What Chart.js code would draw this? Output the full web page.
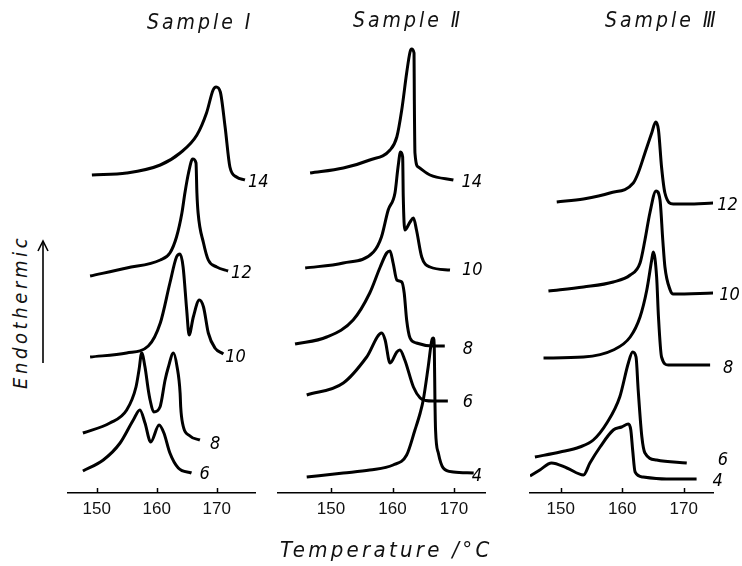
<!DOCTYPE html>
<html>
<head>
<meta charset="utf-8">
<script src="https://cdn.jsdelivr.net/npm/chart.js@4.4.0/dist/chart.umd.min.js"></script>
<style>
  body { margin: 0; background: #fff; }
  #wrap { position: relative; width: 742px; height: 566px; overflow: hidden; }
  canvas { position: absolute; top: 0; }
  .txt { position: absolute; font-family: "DejaVu Sans Condensed", "DejaVu Sans"; font-style: italic; color: #111; white-space: nowrap; }
</style>
</head>
<body>
<div id="wrap">
  <canvas id="c1" width="210" height="566" style="left:60px"></canvas>
  <canvas id="c2" width="225" height="566" style="left:270px"></canvas>
  <canvas id="c3" width="220" height="566" style="left:522px"></canvas>

  <div class="txt" style="left:147px;top:10px;font-size:21px;letter-spacing:3px">Sample Ⅰ</div>
  <div class="txt" style="left:353px;top:8px;font-size:21px;letter-spacing:3px">Sample Ⅱ</div>
  <div class="txt" style="left:605px;top:8px;font-size:21px;letter-spacing:3px">Sample Ⅲ</div>
  <div class="txt" style="left:280px;top:537px;font-size:22px;letter-spacing:3.3px">Temperature /°C</div>
  <div class="txt" style="left:-55px;top:302px;font-size:20px;letter-spacing:3.6px;width:150px;text-align:center;transform:rotate(-90deg)">Endothermic</div>
  <svg style="position:absolute;left:36px;top:238px" width="14" height="130">
    <line x1="7" y1="4" x2="7" y2="125" stroke="#000" stroke-width="1.6"/>
    <path d="M2,13 L7,3 L12,13" fill="none" stroke="#000" stroke-width="1.6"/>
  </svg>
</div>
<script>
// heat values are height above the axis (arb. units), temperatures in °C
// Sample I
const s1c14T = [149.2, 155, 160.6, 163.9, 166.7, 168.3, 169.4, 169.9, 170.6, 171.4, 172.2, 173.3, 174.7];
const s1c14H = [318, 320, 328, 340, 358, 380, 403, 406, 401, 366, 326, 316, 313];
const s1c12T = [148.9, 155, 160.6, 162.2, 163.3, 164.2, 164.7, 165.3, 166, 166.55, 166.7, 166.9, 167.8, 168.6, 170, 171.9];
const s1c12H = [217, 225, 233, 240, 256, 280, 300, 320, 334, 330, 300, 280, 250, 233, 226, 222];
const s1c10T = [148.9, 155, 158.6, 160.6, 162.2, 163.3, 163.9, 164.4, 165, 165.4, 166.1, 167.1, 167.8, 168.6, 169.7, 171.1];
const s1c10H = [136, 140, 147, 170, 210, 236, 239, 226, 183, 158, 176, 193, 186, 160, 145, 139];
const s1c8T = [147.7, 152.2, 155, 156.55, 157.05, 157.5, 158.05, 158.6, 158.9, 159.5, 160.55, 161.4, 161.9, 162.8, 163.4, 163.9, 164.0, 164.3, 165.55, 167.2];
const s1c8H = [60, 70, 83, 106, 123, 140, 126, 103, 93, 81, 86, 113, 125, 140, 126, 100, 86, 70, 57, 53];
const s1c6T = [147.7, 151.1, 153.9, 156.1, 157.2, 158.05, 159, 160.4, 161.2, 162.2, 163.6, 165.8];
const s1c6H = [22, 33, 50, 73, 83, 70, 51, 68, 60, 40, 25, 20];

// Sample II
const s2c14T = [146.6, 152, 156.3, 159.6, 160.7, 161.5, 162.3, 162.85, 163.1, 163.5, 163.55, 163.65, 164.2, 166.1, 169.9];
const s2c14H = [320, 325, 333, 343, 356, 383, 420, 441, 444, 440, 393, 340, 326, 318, 313];
const s2c10T = [145.8, 152, 156.9, 158.2, 159.3, 160.4, 160.9, 161.3, 161.65, 161.75, 162, 162.85, 163.4, 163.9, 164.75, 166.1, 169.35];
const s2c10H = [225, 230, 241, 256, 283, 300, 326, 341, 336, 296, 263, 271, 275, 263, 236, 226, 223];
const s2c8T = [144.15, 149.3, 153.6, 156.3, 158, 159.05, 159.6, 160.1, 160.7, 161.5, 161.9, 162.3, 162.85, 163.9, 166.6, 168.5];
const s2c8H = [149, 156, 173, 200, 226, 240, 242, 230, 213, 211, 200, 173, 155, 150, 147, 147];
const s2c6T = [146.05, 152, 155.8, 158.25, 158.8, 159.6, 160.7, 161.2, 162, 163.4, 164.5, 165.4, 166.6, 169];
const s2c6H = [98, 110, 136, 160, 153, 130, 141, 143, 133, 106, 95, 92.5, 92, 92];
const s2c4T = [146.05, 152, 156.3, 160.1, 162.3, 163.65, 164.5, 165, 165.8, 166.4, 166.65, 166.8, 166.9, 167, 167.45, 168.25, 169.9, 173.2];
const s2c4H = [16, 20, 23, 28, 38, 63, 80, 93, 126, 153, 155, 143, 93, 63, 40, 25, 21, 20];

// Sample III
const s3c12T = [149.35, 153.7, 158, 161.8, 162.6, 163.7, 164.8, 165.45, 165.9, 166.4, 166.95, 168.3, 170.5, 174.8];
const s3c12H = [291, 294, 300, 310, 320, 340, 360, 371, 363, 326, 300, 289, 289, 290];
const s3c10T = [148, 153.7, 158.55, 161.3, 162.9, 163.7, 164.5, 165.5, 166.15, 166.6, 166.95, 167.8, 168.3, 174.8];
const s3c10H = [202, 206, 211, 218, 230, 253, 280, 302, 293, 253, 226, 203, 199, 200];
const s3c8T = [147.2, 153.7, 158.55, 161.3, 162.9, 164, 164.8, 165.05, 165.6, 165.9, 166.4, 167.5, 174.3];
const s3c8H = [135, 136, 143, 156, 176, 203, 233, 241, 216, 176, 136, 128, 128];
const s3c6T = [145.8, 149.9, 153.1, 155.3, 157.5, 159.6, 161, 161.7, 162.25, 162.6, 163.2, 163.7, 165.6, 170.5];
const s3c6H = [36, 41, 46, 53, 70, 96, 130, 141, 136, 103, 56, 40, 33, 30];
const s3c4T = [145, 146.6, 148.5, 151, 153.7, 154.75, 156.4, 158.55, 159.9, 161, 161.4, 161.7, 162.1, 163.4, 167.2, 172.1];
const s3c4H = [17, 23, 30, 25, 18, 30, 46, 63, 66, 69, 63, 43, 21, 16, 14, 14];

const ticks = [150, 160, 170];

function pts(T, H) {
  return T.map((t, i) => ({ x: t, y: H[i] }));
}

function curve(label, T, H, dx, dy) {
  return {
    label: label,
    data: pts(T, H),
    borderColor: '#000',
    borderWidth: 3,
    pointRadius: 0,
    cubicInterpolationMode: 'monotone',
    fill: false,
    labelDx: dx,
    labelDy: dy
  };
}

// upward tick marks + curve numbers at the end of each trace
const extras = {
  id: 'extras',
  afterDraw(chart) {
    const xs = chart.scales.x, ys = chart.scales.y, ctx = chart.ctx;
    ctx.save();
    ctx.strokeStyle = '#000';
    ctx.lineWidth = 1.5;
    ticks.forEach(v => {
      const px = Math.round(xs.getPixelForValue(v)) + 0.5;
      ctx.beginPath();
      ctx.moveTo(px, xs.top);
      ctx.lineTo(px, xs.top - 5);
      ctx.stroke();
    });
    ctx.font = 'italic 18px "DejaVu Sans Condensed", "DejaVu Sans"';
    ctx.fillStyle = '#000';
    ctx.textBaseline = 'middle';
    chart.data.datasets.forEach(ds => {
      const last = ds.data[ds.data.length - 1];
      ctx.fillText(ds.label, xs.getPixelForValue(last.x) + ds.labelDx, ys.getPixelForValue(last.y) + ds.labelDy);
    });
    ctx.restore();
  }
};

function panel(id, xmin, xmax, padL, padR, datasets) {
  new Chart(document.getElementById(id), {
    type: 'line',
    data: { datasets: datasets },
    plugins: [extras],
    options: {
      responsive: false,
      animation: false,
      layout: { padding: { left: padL, right: padR, top: 0, bottom: 0 } },
      plugins: { legend: { display: false }, tooltip: { enabled: false } },
      scales: {
        x: {
          type: 'linear',
          min: xmin,
          max: xmax,
          afterBuildTicks: s => { s.ticks = ticks.map(v => ({ value: v })); },
          afterFit: s => { s.height = 73; },
          grid: { display: false, drawTicks: false },
          border: { display: true, color: '#000', width: 1.5 },
          ticks: {
            padding: 6,
            color: '#111',
            font: { family: '"Liberation Sans"', size: 17 },
            maxRotation: 0
          }
        },
        y: { display: false, min: 0, max: 493 }
      }
    }
  });
}

panel('c1', 145.22, 176.38, 8, 15, [
  curve('14', s1c14T, s1c14H, 3, 2),
  curve('12', s1c12T, s1c12H, 3, 2),
  curve('10', s1c10T, s1c10H, 2, 3),
  curve('8', s1c8T, s1c8H, 10, 4),
  curve('6', s1c6T, s1c6H, 8, 1)
]);

panel('c2', 141.38, 175.04, 8, 10, [
  curve('14', s2c14T, s2c14H, 8, 2),
  curve('10', s2c10T, s2c10H, 12, 0),
  curve('8', s2c8T, s2c8H, 18, 3),
  curve('6', s2c6T, s2c6H, 15, 1),
  curve('4', s2c4T, s2c4H, -2, 3)
]);

panel('c3', 145.0, 174.77, 8, 29, [
  curve('12', s3c12T, s3c12H, 4, 2),
  curve('10', s3c10T, s3c10H, 6, 2),
  curve('8', s3c8T, s3c8H, 13, 3),
  curve('6', s3c6T, s3c6H, 31, -3),
  curve('4', s3c4T, s3c4H, 16, 2)
]);
</script>
</body>
</html>
